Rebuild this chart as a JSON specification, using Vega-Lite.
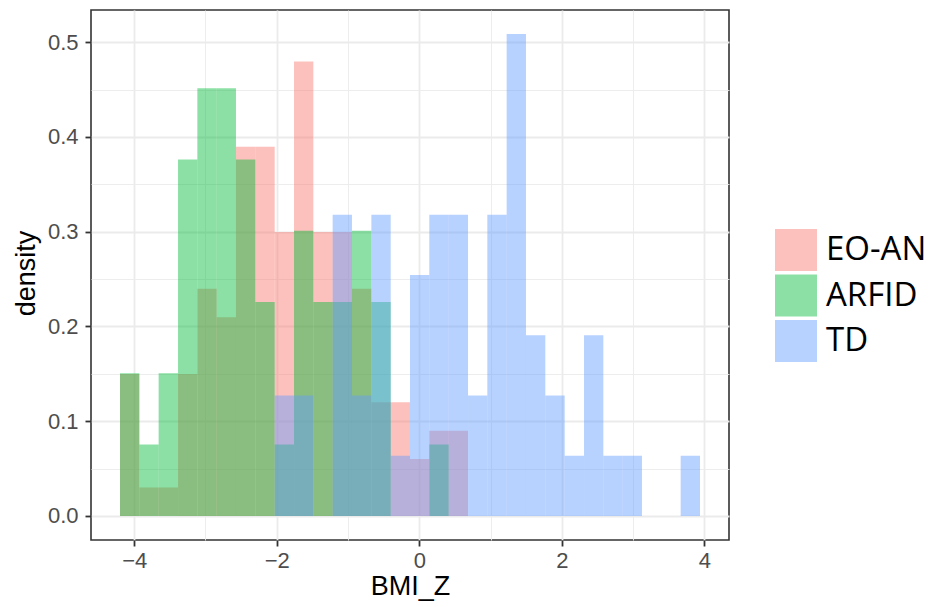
{
  "$schema": "https://vega.github.io/schema/vega-lite/v6.json",
  "width": 638,
  "height": 530,
  "autosize": {"type": "none"},
  "padding": {"left": 91, "top": 10, "right": 201, "bottom": 67},
  "background": "white",
  "config": {
    "view": {"stroke": "#333333", "strokeWidth": 1.6},
    "font": "Liberation Sans"
  },
  "data": {
    "values": [
      {"group": "EO-AN", "bin_start": -4.199, "bin_end": -3.928, "density": 0.1499},
      {"group": "EO-AN", "bin_start": -3.928, "bin_end": -3.657, "density": 0.0300},
      {"group": "EO-AN", "bin_start": -3.657, "bin_end": -3.385, "density": 0.0300},
      {"group": "EO-AN", "bin_start": -3.385, "bin_end": -3.114, "density": 0.1499},
      {"group": "EO-AN", "bin_start": -3.114, "bin_end": -2.843, "density": 0.2398},
      {"group": "EO-AN", "bin_start": -2.843, "bin_end": -2.572, "density": 0.2098},
      {"group": "EO-AN", "bin_start": -2.572, "bin_end": -2.301, "density": 0.3897},
      {"group": "EO-AN", "bin_start": -2.301, "bin_end": -2.029, "density": 0.3897},
      {"group": "EO-AN", "bin_start": -2.029, "bin_end": -1.758, "density": 0.2998},
      {"group": "EO-AN", "bin_start": -1.758, "bin_end": -1.487, "density": 0.4796},
      {"group": "EO-AN", "bin_start": -1.487, "bin_end": -1.216, "density": 0.2998},
      {"group": "EO-AN", "bin_start": -1.216, "bin_end": -0.945, "density": 0.2998},
      {"group": "EO-AN", "bin_start": -0.945, "bin_end": -0.673, "density": 0.2398},
      {"group": "EO-AN", "bin_start": -0.673, "bin_end": -0.402, "density": 0.1199},
      {"group": "EO-AN", "bin_start": -0.402, "bin_end": -0.131, "density": 0.1199},
      {"group": "EO-AN", "bin_start": -0.131, "bin_end": 0.140, "density": 0.0600},
      {"group": "EO-AN", "bin_start": 0.140, "bin_end": 0.411, "density": 0.0899},
      {"group": "EO-AN", "bin_start": 0.411, "bin_end": 0.683, "density": 0.0899},
      {"group": "ARFID", "bin_start": -4.199, "bin_end": -3.928, "density": 0.1505},
      {"group": "ARFID", "bin_start": -3.928, "bin_end": -3.657, "density": 0.0753},
      {"group": "ARFID", "bin_start": -3.657, "bin_end": -3.385, "density": 0.1505},
      {"group": "ARFID", "bin_start": -3.385, "bin_end": -3.114, "density": 0.3763},
      {"group": "ARFID", "bin_start": -3.114, "bin_end": -2.843, "density": 0.4515},
      {"group": "ARFID", "bin_start": -2.843, "bin_end": -2.572, "density": 0.4515},
      {"group": "ARFID", "bin_start": -2.572, "bin_end": -2.301, "density": 0.3763},
      {"group": "ARFID", "bin_start": -2.301, "bin_end": -2.029, "density": 0.2258},
      {"group": "ARFID", "bin_start": -2.029, "bin_end": -1.758, "density": 0.0753},
      {"group": "ARFID", "bin_start": -1.758, "bin_end": -1.487, "density": 0.3010},
      {"group": "ARFID", "bin_start": -1.487, "bin_end": -1.216, "density": 0.2258},
      {"group": "ARFID", "bin_start": -1.216, "bin_end": -0.945, "density": 0.2258},
      {"group": "ARFID", "bin_start": -0.945, "bin_end": -0.673, "density": 0.3010},
      {"group": "ARFID", "bin_start": -0.673, "bin_end": -0.402, "density": 0.2258},
      {"group": "ARFID", "bin_start": 0.140, "bin_end": 0.411, "density": 0.0753},
      {"group": "TD", "bin_start": -2.029, "bin_end": -1.758, "density": 0.1272},
      {"group": "TD", "bin_start": -1.758, "bin_end": -1.487, "density": 0.1272},
      {"group": "TD", "bin_start": -1.216, "bin_end": -0.945, "density": 0.3179},
      {"group": "TD", "bin_start": -0.945, "bin_end": -0.673, "density": 0.1272},
      {"group": "TD", "bin_start": -0.673, "bin_end": -0.402, "density": 0.3179},
      {"group": "TD", "bin_start": -0.402, "bin_end": -0.131, "density": 0.0636},
      {"group": "TD", "bin_start": -0.131, "bin_end": 0.140, "density": 0.2543},
      {"group": "TD", "bin_start": 0.140, "bin_end": 0.411, "density": 0.3179},
      {"group": "TD", "bin_start": 0.411, "bin_end": 0.683, "density": 0.3179},
      {"group": "TD", "bin_start": 0.683, "bin_end": 0.954, "density": 0.1272},
      {"group": "TD", "bin_start": 0.954, "bin_end": 1.225, "density": 0.3179},
      {"group": "TD", "bin_start": 1.225, "bin_end": 1.496, "density": 0.5086},
      {"group": "TD", "bin_start": 1.496, "bin_end": 1.767, "density": 0.1907},
      {"group": "TD", "bin_start": 1.767, "bin_end": 2.039, "density": 0.1272},
      {"group": "TD", "bin_start": 2.039, "bin_end": 2.310, "density": 0.0636},
      {"group": "TD", "bin_start": 2.310, "bin_end": 2.581, "density": 0.1907},
      {"group": "TD", "bin_start": 2.581, "bin_end": 2.852, "density": 0.0636},
      {"group": "TD", "bin_start": 2.852, "bin_end": 3.123, "density": 0.0636},
      {"group": "TD", "bin_start": 3.666, "bin_end": 3.937, "density": 0.0636}
    ]
  },
  "mark": {"type": "bar", "opacity": 0.45, "strokeWidth": 0},
  "encoding": {
    "x": {
      "field": "bin_start",
      "type": "quantitative",
      "scale": {"domain": [-4.6058, 4.3438], "nice": false, "zero": false},
      "axis": {
        "title": "BMI_Z",
        "values": [-4, -3, -2, -1, 0, 1, 2, 3, 4],
        "format": "d",
        "labelExpr": "abs(datum.value) % 2 == 1 ? '' : datum.label",
        "domain": false,
        "grid": true,
        "gridColor": "#EBEBEB",
        "gridWidth": {"condition": {"test": "abs(datum.value) % 2 == 1", "value": 0.9}, "value": 1.8},
        "tickColor": "#333333",
        "tickWidth": 1.8,
        "tickSize": 6,
        "tickOpacity": {"condition": {"test": "abs(datum.value) % 2 == 1", "value": 0}, "value": 1},
        "labelFontSize": 22,
        "labelColor": "#4D4D4D",
        "labelPadding": 4,
        "labelFlush": false,
        "titleFontSize": 27,
        "titleFontWeight": "normal",
        "titleColor": "#000000",
        "titleX": 319,
        "titleY": 54,
        "titleBaseline": "alphabetic"
      }
    },
    "x2": {"field": "bin_end"},
    "y": {
      "field": "density",
      "type": "quantitative",
      "stack": null,
      "scale": {"domain": [-0.02543, 0.534], "nice": false, "zero": false},
      "axis": {
        "title": "density",
        "values": [0, 0.05, 0.1, 0.15, 0.2, 0.25, 0.3, 0.35, 0.4, 0.45, 0.5],
        "format": ".1f",
        "labelExpr": "round(datum.value * 100) % 10 == 5 ? '' : datum.label",
        "domain": false,
        "grid": true,
        "gridColor": "#EBEBEB",
        "gridWidth": {"condition": {"test": "round(datum.value * 100) % 10 == 5", "value": 0.9}, "value": 1.8},
        "tickColor": "#333333",
        "tickWidth": 1.8,
        "tickSize": 6,
        "tickOpacity": {"condition": {"test": "round(datum.value * 100) % 10 == 5", "value": 0}, "value": 1},
        "labelFontSize": 22,
        "labelColor": "#4D4D4D",
        "labelPadding": 7,
        "labelFlush": false,
        "titleFontSize": 27,
        "titleFontWeight": "normal",
        "titleColor": "#000000",
        "titleAngle": -90,
        "titleX": -65,
        "titleY": 263,
        "titleAlign": "center",
        "titleBaseline": "middle"
      }
    },
    "y2": {"datum": 0},
    "color": {
      "field": "group",
      "type": "nominal",
      "scale": {"domain": ["EO-AN", "ARFID", "TD"], "range": ["#F8766D", "#00BA38", "#619CFF"]},
      "legend": {
        "title": null,
        "orient": "none",
        "legendX": 684,
        "legendY": 219,
        "padding": 0,
        "symbolType": "square",
        "symbolSize": 1764,
        "symbolStrokeWidth": 0,
        "symbolOpacity": 0.45,
        "labelFont": "Open Sans",
        "labelFontSize": 33,
        "labelColor": "#000000",
        "labelOffset": 9,
        "rowPadding": 3.5
      }
    }
  }
}
